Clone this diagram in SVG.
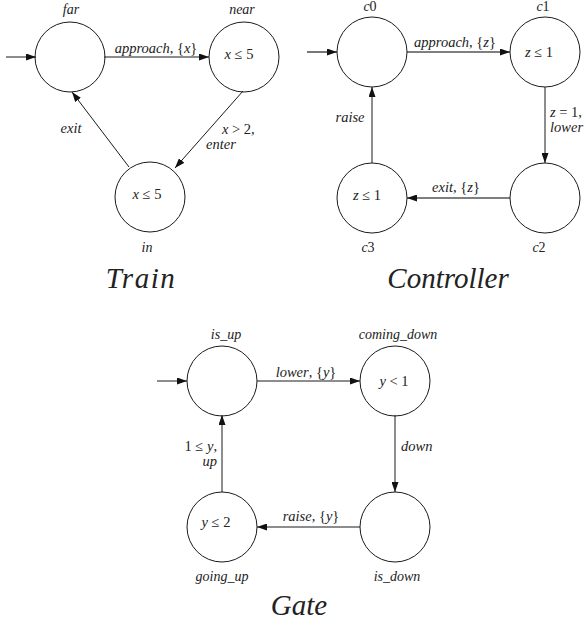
<svg xmlns="http://www.w3.org/2000/svg" width="586" height="626" viewBox="0 0 586 626" font-family="Liberation Serif, DejaVu Serif, serif">
<defs>
<style>
.n { fill: none; stroke: #1a1a1a; stroke-width: 1; }
.e { fill: none; stroke: #1a1a1a; stroke-width: 1; marker-end: url(#ah); }
.g { stroke: #555; stroke-width: 1.6; }
text { font-style: italic; font-size: 14px; fill: #222; }
.l { font-size: 14.5px; }
.u { font-style: normal; }
.title { font-size: 29px; text-anchor: middle; }
.m { text-anchor: middle; }
.en { text-anchor: end; }
</style>
<marker id="ah" markerWidth="10" markerHeight="7" refX="10" refY="3.5" orient="auto" markerUnits="userSpaceOnUse">
<path d="M0,0 L10,3.5 L0,7 z" fill="#111"/>
</marker>
</defs>
<rect width="586" height="626" fill="#fff"/>

<g id="connectors">
<path class="e" d="M6,57 L36,57"/>
<path class="e" d="M104,57 L209,57"/>
<path class="e" d="M243,91 L175,168"/>
<path class="e" d="M129,167 L72,92"/>
<path class="e g" d="M307,52 L337,52"/>
<path class="e g" d="M407,52 L510,52"/>
<path class="e" d="M545,87 L545,163"/>
<path class="e g" d="M510,198 L407,198"/>
<path class="e" d="M372,163 L372,87"/>
<path class="e" d="M157,381 L187,381"/>
<path class="e" d="M257,381 L360,381"/>
<path class="e" d="M395,415 L395,492"/>
<path class="e" d="M360,527 L257,527"/>
<path class="e" d="M222,492 L222,415"/>
<text class="l m" x="156" y="53">approach<tspan class="u">, {</tspan>x<tspan class="u">}</tspan></text>
<text class="l" x="222" y="134">x<tspan class="u"> &gt; 2,</tspan></text>
<text class="l" x="206" y="149">enter</text>
<text class="l m" x="71" y="133">exit</text>
<text class="l m" x="455" y="47">approach<tspan class="u">, {</tspan>z<tspan class="u">}</tspan></text>
<text class="l" x="550" y="117">z<tspan class="u"> = 1,</tspan></text>
<text class="l" x="550" y="132">lower</text>
<text class="l m" x="350" y="122">raise</text>
<text class="l m" x="456" y="192">exit<tspan class="u">, {</tspan>z<tspan class="u">}</tspan></text>
<text class="l m" x="306" y="377">lower<tspan class="u">, {</tspan>y<tspan class="u">}</tspan></text>
<text class="l" x="401" y="451">down</text>
<text class="l en" x="217" y="451"><tspan class="u">1 ≤ </tspan>y<tspan class="u">,</tspan></text>
<text class="l en" x="217" y="466">up</text>
<text class="l m" x="311" y="521">raise<tspan class="u">, {</tspan>y<tspan class="u">}</tspan></text>
</g>

<g id="train">
<g id="far"><circle class="n" cx="70" cy="57" r="35"/><text class="m" x="71" y="14">far</text></g>
<g id="near"><circle class="n" cx="244" cy="57" r="35"/><text class="m" x="242" y="14">near</text><text class="l m" x="239" y="59">x<tspan class="u"> ≤ 5</tspan></text></g>
<g id="in"><circle class="n" cx="150" cy="197" r="35"/><text class="m" x="147" y="252">in</text><text class="l m" x="147" y="199">x<tspan class="u"> ≤ 5</tspan></text></g>
<text class="title" x="141" y="288" letter-spacing="1.5">Train</text>
</g>

<g id="controller">
<g id="c0"><circle class="n" cx="372" cy="52" r="35"/><text class="m" x="370" y="11">c<tspan class="u">0</tspan></text></g>
<g id="c1"><circle class="n" cx="545" cy="52" r="35"/><text class="m" x="543" y="11">c<tspan class="u">1</tspan></text><text class="l m" x="539" y="57">z<tspan class="u"> ≤ 1</tspan></text></g>
<g id="c2"><circle class="n" cx="545" cy="198" r="35"/><text class="m" x="539" y="252">c<tspan class="u">2</tspan></text></g>
<g id="c3"><circle class="n" cx="372" cy="198" r="35"/><text class="m" x="368" y="252">c<tspan class="u">3</tspan></text><text class="l m" x="367" y="200">z<tspan class="u"> ≤ 1</tspan></text></g>
<text class="title" x="448" y="288">Controller</text>
</g>

<g id="gate">
<g id="is_up"><circle class="n" cx="222" cy="381" r="35"/><text class="m" x="226" y="339">is_up</text></g>
<g id="coming_down"><circle class="n" cx="395" cy="381" r="35"/><text class="m" x="398" y="339">coming_down</text><text class="l m" x="394" y="386">y<tspan class="u"> &lt; 1</tspan></text></g>
<g id="is_down"><circle class="n" cx="395" cy="527" r="35"/><text class="m" x="397" y="581">is_down</text></g>
<g id="going_up"><circle class="n" cx="222" cy="527" r="35"/><text class="m" x="222" y="581">going_up</text><text class="l m" x="216" y="527">y<tspan class="u"> ≤ 2</tspan></text></g>
<text class="title" x="299" y="615">Gate</text>
</g>
</svg>
